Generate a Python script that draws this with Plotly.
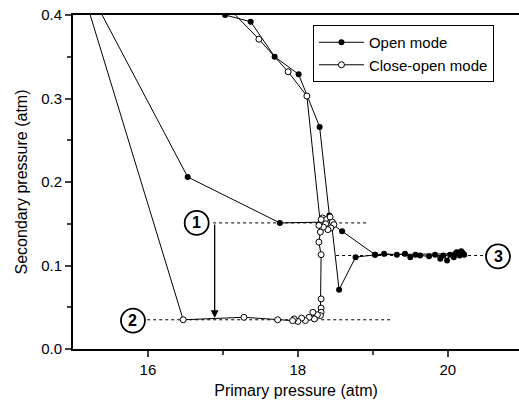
import plotly.graph_objects as go

# ---- data ----
open_x = [17.03, 17.37, 17.69, 18.01, 18.29, 18.42, 18.45, 18.55, 18.77,
          19.03, 19.15, 19.32, 19.43, 19.50, 19.57, 19.63, 19.75, 19.83, 19.90,
          19.94, 19.99, 20.03, 20.08, 20.12, 20.16, 20.20, 20.22, 20.18, 20.10,
          19.03, 18.59, 18.44, 18.39, 18.36, 17.76, 16.53, 14.80]
open_y = [0.400, 0.392, 0.350, 0.329, 0.266, 0.160, 0.150, 0.071, 0.110,
          0.113, 0.114, 0.113, 0.114, 0.110, 0.113, 0.112, 0.111, 0.113, 0.108,
          0.112, 0.106, 0.113, 0.110, 0.116, 0.112, 0.115, 0.113, 0.117, 0.114,
          0.113, 0.141, 0.150, 0.154, 0.152, 0.151, 0.206, 0.500]

close_x = [16.95, 17.48, 17.87, 18.12, 18.30, 18.33, 18.36, 18.38, 18.41, 18.43,
           18.46, 18.48, 18.44, 18.40, 18.37, 18.34, 18.31, 18.28, 18.30, 18.28,
           18.31, 18.31, 18.31, 18.31, 18.30, 18.26, 18.20, 18.22, 18.15, 18.10,
           18.05, 18.00, 17.95, 17.93, 17.73, 17.28, 16.47, 14.89]
close_y = [0.420, 0.371, 0.332, 0.303, 0.150, 0.157, 0.148, 0.155, 0.150, 0.158,
           0.152, 0.149, 0.145, 0.143, 0.150, 0.146, 0.155, 0.148, 0.140, 0.128,
           0.113, 0.060, 0.049, 0.044, 0.040, 0.041, 0.044, 0.036, 0.038, 0.034,
           0.037, 0.033, 0.036, 0.034, 0.035, 0.038, 0.035, 0.500]

ref_x1, ref_y1 = [16.87, 18.92], [0.151, 0.151]
ref_x2, ref_y2 = [15.99, 19.23], [0.035, 0.035]
ref_x3, ref_y3 = [18.51, 20.47], [0.112, 0.112]

label_text = ["1", "2", "3"]
label_x = [16.65, 15.80, 20.67]
label_y = [0.151, 0.034, 0.111]

arrow_x = 16.89
arrow_from, arrow_to = 0.151, 0.037

FONT = "Liberation Sans, Arial"

fig = go.Figure()

for rx, ry in [(ref_x1, ref_y1), (ref_x2, ref_y2), (ref_x3, ref_y3)]:
    fig.add_trace(go.Scatter(x=rx, y=ry, mode="lines", showlegend=False,
                             line=dict(color="black", width=1, dash="dot"),
                             hoverinfo="skip"))

fig.add_trace(go.Scatter(x=open_x, y=open_y, mode="lines+markers", name="Open mode",
                         line=dict(color="black", width=1),
                         marker=dict(symbol="circle", size=6, color="black")))
fig.add_trace(go.Scatter(x=close_x, y=close_y, mode="lines+markers", name="Close-open mode",
                         line=dict(color="black", width=1),
                         marker=dict(symbol="circle", size=6, color="white",
                                     line=dict(color="black", width=1))))

for t, lx, ly in zip(label_text, label_x, label_y):
    fig.add_shape(type="circle", xref="x", yref="y", xsizemode="pixel", ysizemode="pixel",
                  xanchor=lx, yanchor=ly, x0=-12, x1=12, y0=-12, y1=12,
                  line=dict(color="black", width=1.8), fillcolor="white")
    fig.add_annotation(x=lx, y=ly, text="<b>%s</b>" % t, showarrow=False,
                       font=dict(family=FONT, size=16, color="black"))

fig.add_annotation(x=arrow_x, y=arrow_to, ax=arrow_x, ay=arrow_from, xref="x", yref="y",
                   axref="x", ayref="y", text="", showarrow=True, arrowhead=2,
                   arrowsize=1.2, arrowwidth=1.3, arrowcolor="black")

fig.update_layout(
    width=519, height=401,
    margin=dict(l=73, r=0, t=15, b=52),
    paper_bgcolor="white", plot_bgcolor="white",
    font=dict(family=FONT, size=14, color="black"),
    legend=dict(x=0.538, y=0.97, xanchor="left", yanchor="top",
                bordercolor="black", borderwidth=1, bgcolor="white",
                font=dict(size=15), tracegroupgap=0, itemwidth=45),
    xaxis=dict(range=[15, 20.95], tickvals=[16, 18, 20], ticks="outside", ticklen=6,
               tickwidth=1.5, showline=True, linecolor="black", linewidth=2, mirror=True,
               showgrid=False, zeroline=False, tickfont=dict(size=15),
               minor=dict(tickvals=[17, 19], ticks="outside", ticklen=4, tickwidth=1.5),
               title=dict(text="Primary pressure (atm)", font=dict(size=16), standoff=8)),
    yaxis=dict(range=[0, 0.4], tickvals=[0, 0.1, 0.2, 0.3, 0.4],
               ticktext=["0.0", "0.1", "0.2", "0.3", "0.4"], ticks="outside", ticklen=6,
               tickwidth=1.5, showline=True, linecolor="black", linewidth=2,
               showgrid=False, zeroline=False, tickfont=dict(size=15),
               minor=dict(dtick=0.05, ticks="outside", ticklen=4, tickwidth=1.5),
               title=dict(text="Secondary pressure (atm)", font=dict(size=16), standoff=10)),
)

fig.write_html("out.html")
